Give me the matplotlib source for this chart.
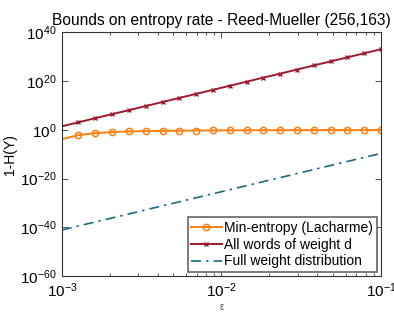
import matplotlib
matplotlib.use('Agg')
import matplotlib.pyplot as plt
from matplotlib.ticker import FixedLocator, LogLocator, NullFormatter

plt.rcParams['font.family'] = ['Liberation Sans', 'DejaVu Sans']
plt.rcParams['mathtext.fontset'] = 'custom'
plt.rcParams['mathtext.rm'] = 'Liberation Sans'
plt.rcParams['mathtext.it'] = 'Liberation Sans'

# epsilon grid
eps = [0.001, 0.00127, 0.00162, 0.00207, 0.00264, 0.00336, 0.00428, 0.00546,
       0.00695, 0.00886, 0.0113, 0.0144, 0.0183, 0.0234, 0.0298, 0.0379,
       0.0483, 0.0616, 0.0785, 0.1]

min_entropy = [1.4e-4, 6.3e-3, 0.04, 0.11, 0.2, 0.28, 0.35, 0.42, 0.48, 0.52,
               0.56, 0.6, 0.63, 0.66, 0.68, 0.69, 0.7, 0.71, 0.72, 0.72]

weight_d = [2.5e1, 1.1e3, 5.4e4, 2.5e6, 1.1e8, 5.2e9, 2.4e11, 1.1e13, 5.0e14,
            2.3e16, 1.1e18, 4.9e19, 2.3e21, 1.0e23, 4.8e24, 2.2e26, 1.0e28,
            4.7e29, 2.1e31, 1.0e33]

full_dist = [7.9e-42, 3.5e-40, 1.6e-38, 7.2e-37, 3.2e-35, 1.5e-33, 6.6e-32,
             3.0e-30, 1.3e-28, 6.0e-27, 2.7e-25, 1.2e-23, 5.5e-22, 2.5e-20,
             1.1e-18, 4.9e-17, 2.2e-15, 1.0e-13, 4.5e-12, 2.0e-10]

labels = ['Min-entropy (Lacharme)', 'All words of weight d', 'Full weight distribution']

fig = plt.figure(figsize=(3.94, 3.12), dpi=100)
ax = fig.add_axes([0.157, 0.115, 0.81, 0.782])

ax.loglog(eps, min_entropy, color='#ff7f0e', lw=1.4, marker='o', ms=4.5,
          mfc='none', mew=1.1, markevery=list(range(1, 20)), label=labels[0])
ax.loglog(eps, weight_d, color='#9e1b2e', lw=1.4, marker='x', ms=3.5,
          mew=1.0, markevery=list(range(1, 20)), label=labels[1])
ax.loglog(eps, full_dist, color='#1b6b80', lw=1.2, ls=(0, (6, 3, 1.5, 3)),
          label=labels[2])

ax.set_xlim(1e-3, 1e-1)
ax.set_ylim(1e-60, 1e40)
ax.yaxis.set_major_locator(FixedLocator([1e-60, 1e-40, 1e-20, 1e0, 1e20, 1e40]))
ax.yaxis.set_minor_locator(FixedLocator([]))
ax.xaxis.set_minor_locator(LogLocator(base=10, subs=range(2, 10)))
ax.xaxis.set_minor_formatter(NullFormatter())

ax.tick_params(which='both', direction='in', top=True, right=True,
               labelsize=11, colors='#333333', labelcolor='black')
ax.tick_params(which='major', length=4, width=0.6)
ax.tick_params(which='minor', length=2.5, width=0.6)
ax.tick_params(axis='x', pad=4)
for s in ax.spines.values():
    s.set_linewidth(0.8)
    s.set_color('#333333')

ax.set_title('Bounds on entropy rate - Reed-Mueller (256,163)', fontsize=11.2, pad=5)
ax.set_ylabel('1-H(Y)', fontsize=10, labelpad=2)
ax.set_xlabel('ε', fontsize=7, color='#555555', labelpad=1)

leg = ax.legend(loc='lower right', fontsize=10, fancybox=False, framealpha=1,
                edgecolor='#666666', handlelength=2.2, handletextpad=0.2,
                borderpad=0.25, labelspacing=0.2, borderaxespad=0.3)
leg.get_frame().set_linewidth(1.2)

fig.savefig('out.png', dpi=100)
